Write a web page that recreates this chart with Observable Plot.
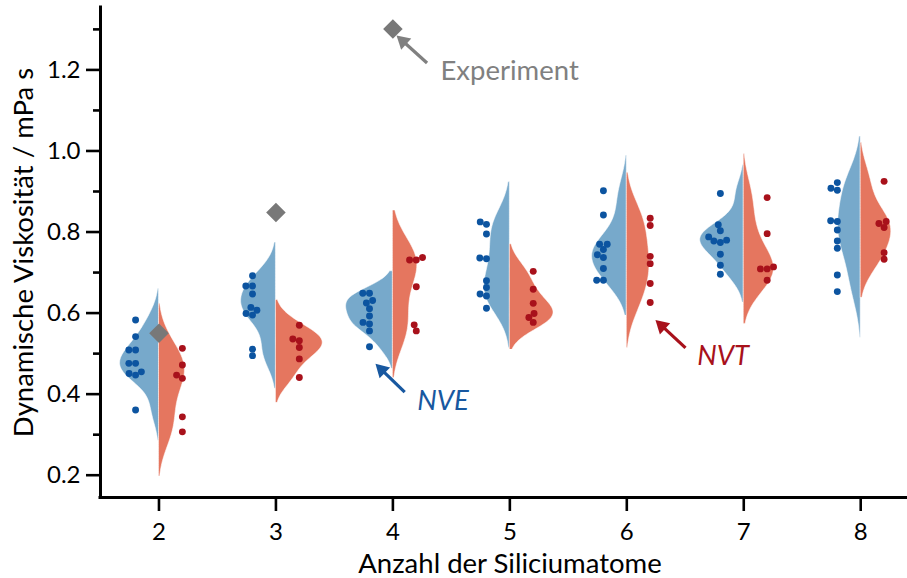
<!DOCTYPE html>
<html><head><meta charset="utf-8">
<script src="https://cdn.jsdelivr.net/npm/d3@7"></script>
<script src="https://cdn.jsdelivr.net/npm/@observablehq/plot@0.6"></script>
<style>body{margin:0;background:#fff} svg{display:block}</style>
</head><body><div id="chart"></div>
<script>
// ---- data ----
const siliconAtoms = [2, 3, 4, 5, 6, 7, 8];
const nveViscosity = [
  [0.583, 0.542, 0.509, 0.509, 0.476, 0.476, 0.451, 0.447, 0.455, 0.361],
  [0.692, 0.667, 0.667, 0.647, 0.614, 0.607, 0.599, 0.595, 0.511, 0.495],
  [0.649, 0.649, 0.625, 0.631, 0.611, 0.593, 0.573, 0.577, 0.556, 0.517],
  [0.825, 0.819, 0.795, 0.736, 0.734, 0.680, 0.663, 0.647, 0.642, 0.612],
  [0.902, 0.842, 0.770, 0.770, 0.757, 0.744, 0.737, 0.710, 0.681, 0.681],
  [0.895, 0.818, 0.803, 0.788, 0.778, 0.774, 0.780, 0.745, 0.718, 0.696],
  [0.922, 0.908, 0.903, 0.828, 0.826, 0.805, 0.778, 0.760, 0.694, 0.653]
];
const nvtViscosity = [
  [0.513, 0.472, 0.447, 0.439, 0.344, 0.307],
  [0.570, 0.536, 0.532, 0.515, 0.487, 0.441],
  [0.737, 0.731, 0.731, 0.665, 0.571, 0.556],
  [0.703, 0.659, 0.624, 0.599, 0.589, 0.577],
  [0.834, 0.816, 0.740, 0.722, 0.673, 0.626],
  [0.885, 0.796, 0.714, 0.709, 0.709, 0.681],
  [0.925, 0.826, 0.821, 0.811, 0.749, 0.733]
];
const experimentAtoms = [2, 3, 4];
const experimentViscosity = [0.550, 0.848, 1.301];
const yTicks = [0.2, 0.4, 0.6, 0.8, 1.0, 1.2];
const yMinorTicks = [0.3, 0.5, 0.7, 0.9, 1.1, 1.3];
const annotationLabels = ["Experiment", "NVE", "NVT"];
const annotationTextX = [4.407, 4.208, 6.602];
const annotationTextY = [1.174, 0.361, 0.473];
const arrowTailX = [4.292, 4.101, 6.502];
const arrowTailY = [1.217, 0.405, 0.514];
const arrowTipX = [4.031, 3.851, 6.245];
const arrowTipY = [1.285, 0.475, 0.583];

// ---- styling ----
const colNveFill = "#77a9cb", colNvtFill = "#e5765f";
const colNveDot = "#0c54a0", colNvtDot = "#a8111b";
const annColors = ["#808080", "#1858a0", "#a8111b"];
const W = 907, H = 578, mL = 100, mR = 0, mT = 7, mB = 81;
const xDomain = [1.5, 8.4], yDomain = [0.145, 1.354];
const xs = d3.scaleLinear(xDomain, [mL, W - mR]);
const ys = d3.scaleLinear(yDomain, [H - mB, mT]);
const pxPerX = (W - mR - mL) / (xDomain[1] - xDomain[0]);
const halfWidth = 0.4, dodge = 0.2, dotR = 3.2, drawR = 3.45;
const titleSize = 27.5, tickSize = 24;

// Gaussian KDE (Scott bandwidth, cut = 2, 100 grid points)
function kde(values) {
  const n = values.length;
  const bw = d3.deviation(values) * Math.pow(n, -1 / 5);
  const lo = d3.min(values) - 2 * bw, hi = d3.max(values) + 2 * bw;
  return d3.range(100).map(i => {
    const y = lo + (hi - lo) * i / 99;
    const d = d3.mean(values, v => Math.exp(-0.5 * ((y - v) / bw) ** 2)) / (bw * Math.sqrt(2 * Math.PI));
    return {y, d};
  });
}
function violinRows(series, side) {
  const dens = series.map(kde);
  const mx = d3.max(dens.flat(), r => r.d);
  return dens.flatMap((rows, g) => rows.map(r => ({
    atom: siliconAtoms[g], y: r.y, x1: siliconAtoms[g],
    x2: siliconAtoms[g] + side * r.d / mx * halfWidth
  })));
}
// beeswarm (seaborn-like) in pixel space
function swarm(values) {
  const pts = values.map(v => ({v, u: -ys(v)})).sort((a, b) => a.u - b.u);
  const placed = [];
  const s2 = (2 * dotR) ** 2;
  for (const p of pts) {
    const nbs = [];
    for (let k = placed.length - 1; k >= 0; k--) {
      if (p.u - placed[k].u < 2 * dotR) nbs.push(placed[k]); else break;
    }
    const cands = [0];
    let leftFirst = true;
    for (const nb of nbs) {
      const dy = p.u - nb.u;
      const dx = Math.sqrt(Math.max(s2 - dy * dy, 0)) * 1.05;
      if (leftFirst) cands.push(nb.off - dx, nb.off + dx); else cands.push(nb.off + dx, nb.off - dx);
      leftFirst = !leftFirst;
    }
    const order = cands.map((c, i) => [Math.abs(c), i, c]).sort((a, b) => a[0] - b[0] || a[1] - b[1]);
    let off = 0;
    if (nbs.length) {
      for (const o of order) {
        const c = o[2];
        if (nbs.every(nb => (nb.off - c) ** 2 + (nb.u - p.u) ** 2 >= s2)) { off = c; break; }
      }
    }
    placed.push({v: p.v, u: p.u, off});
  }
  return placed;
}
function dotRows(series, side) {
  return series.flatMap((vals, g) => swarm(vals).map(p => ({
    x: siliconAtoms[g] + side * dodge + p.off / pxPerX, y: p.v
  })));
}
const nveViolin = violinRows(nveViscosity, -1);
const nvtViolin = violinRows(nvtViscosity, +1);
const nveDots = dotRows(nveViscosity, -1);
const nvtDots = dotRows(nvtViscosity, +1);

// arrows: line + rotated triangle head
const headR = 5.6;
const headTip = Math.sqrt(Math.PI * headR * headR / (3 * Math.sqrt(3))) * 2;
const arrows = annotationLabels.map((lab, i) => {
  const sx = xs(arrowTailX[i]), sy = ys(arrowTailY[i]);
  const tx = xs(arrowTipX[i]), ty = ys(arrowTipY[i]);
  const L = Math.hypot(tx - sx, ty - sy), ux = (tx - sx) / L, uy = (ty - sy) / L;
  const cx = tx - ux * headTip, cy = ty - uy * headTip;
  return {i, x1: arrowTailX[i], y1: arrowTailY[i], x2: xs.invert(cx), y2: ys.invert(cy),
          rot: Math.atan2(ux, -uy) * 180 / Math.PI, color: annColors[i]};
});
const expIdx = d3.range(experimentAtoms.length);

const chart = Plot.plot({
  width: W, height: H,
  marginLeft: mL, marginRight: mR, marginTop: mT, marginBottom: mB,
  style: {fontFamily: "Lato, 'Noto Sans', sans-serif", color: "#000", background: "#fff"},
  x: {type: "linear", domain: xDomain},
  y: {domain: yDomain},
  marks: [
    Plot.areaX(nveViolin, {y: "y", x1: "x1", x2: "x2", z: "atom", fill: colNveFill, stroke: "#ffffff", strokeOpacity: 0.55, strokeWidth: 1, curve: "linear"}),
    Plot.areaX(nvtViolin, {y: "y", x1: "x1", x2: "x2", z: "atom", fill: colNvtFill, stroke: "#ffffff", strokeOpacity: 0.55, strokeWidth: 1, curve: "linear"}),
    Plot.dot(nveDots, {x: "x", y: "y", r: drawR, fill: colNveDot, stroke: "none"}),
    Plot.dot(nvtDots, {x: "x", y: "y", r: drawR, fill: colNvtDot, stroke: "none"}),
    Plot.dot(expIdx, {x: i => experimentAtoms[i], y: i => experimentViscosity[i], symbol: "diamond2", r: 8.8, fill: "#787878", stroke: "none"}),
    Plot.link(arrows, {x1: "x1", y1: "y1", x2: "x2", y2: "y2", stroke: d => d.color, strokeWidth: 3.2}),
    Plot.dot(arrows, {x: "x2", y: "y2", symbol: "triangle", r: headR, rotate: "rot", fill: d => d.color, stroke: "none"}),
    Plot.text([0], {x: i => annotationTextX[i], y: i => annotationTextY[i], text: i => annotationLabels[i], fill: annColors[0], fontSize: titleSize, textAnchor: "start", lineAnchor: "bottom"}),
    Plot.text([1], {x: i => annotationTextX[i], y: i => annotationTextY[i], text: i => annotationLabels[i], fill: annColors[1], fontSize: titleSize, fontStyle: "italic", textAnchor: "start", lineAnchor: "bottom"}),
    Plot.text([2], {x: i => annotationTextX[i], y: i => annotationTextY[i], text: i => annotationLabels[i], fill: annColors[2], fontSize: titleSize, fontStyle: "italic", textAnchor: "start", lineAnchor: "bottom"}),
    // axes
    Plot.axisY({ticks: yTicks, tickSize: 14, tickPadding: 6, tickFormat: ".1f", fontSize: tickSize, strokeWidth: 2.6, label: null}),
    Plot.axisY({ticks: yMinorTicks, tickSize: 7, tickFormat: () => "", strokeWidth: 2.6, label: null}),
    Plot.axisX({ticks: siliconAtoms, tickSize: 14, tickPadding: 11, tickFormat: d => String(d), fontSize: tickSize, strokeWidth: 2.6, label: null}),
    Plot.ruleX([xDomain[0]], {strokeWidth: 3, strokeLinecap: "square"}),
    Plot.ruleY([yDomain[0]], {strokeWidth: 3, strokeLinecap: "square"}),
    Plot.text(["Dynamische Viskosität / mPa s"], {frameAnchor: "left", rotate: -90, dx: -68, textAnchor: "middle", lineAnchor: "bottom", fontSize: titleSize}),
    Plot.text(["Anzahl der Siliciumatome"], {frameAnchor: "bottom", dx: 6, dy: 75, textAnchor: "middle", lineAnchor: "bottom", fontSize: titleSize})
  ]
});
document.getElementById("chart").appendChild(chart);
</script>
</body></html>
